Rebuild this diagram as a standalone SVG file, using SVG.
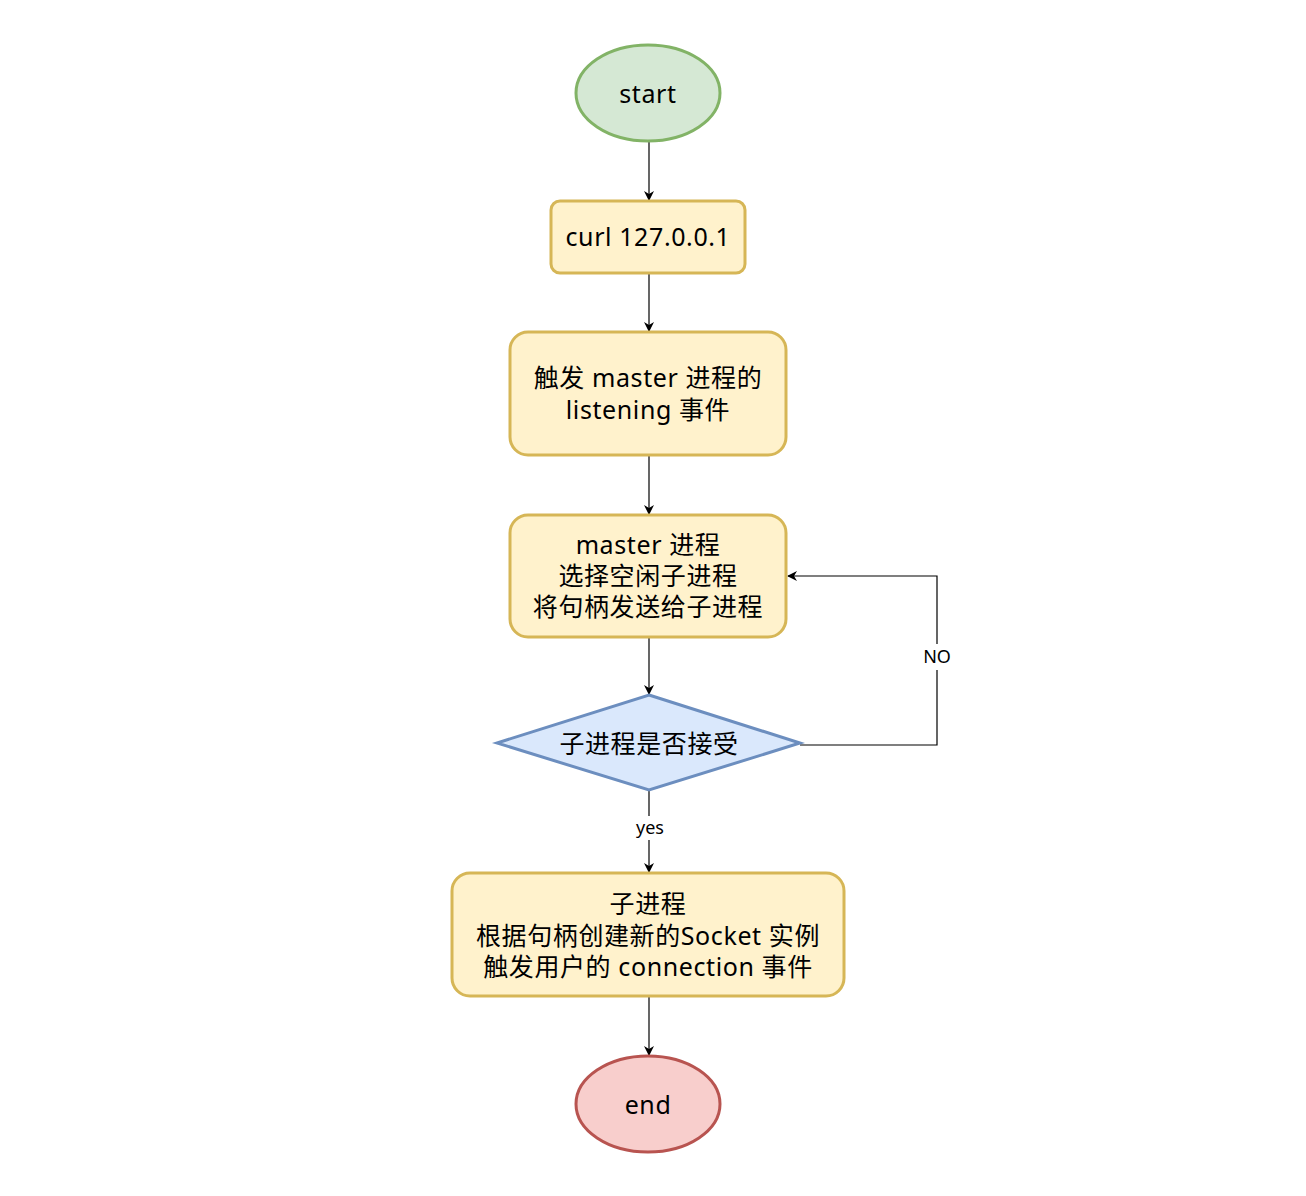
<svg xmlns="http://www.w3.org/2000/svg" width="1306" height="1196" viewBox="0 0 1306 1196">
<style>
  .t { font-family: "Noto Sans", "Noto Sans CJK SC", sans-serif; font-size: 25px; letter-spacing: 0.6px; fill: #000; text-anchor: middle; }
  .lbl { font-family: "Noto Sans", "Noto Sans CJK SC", sans-serif; font-size: 18px; fill: #000; text-anchor: middle; }
  .edge { fill: none; stroke: #000; stroke-width: 1.2; }
  .y { fill: #fff2cc; stroke: #d6b656; stroke-width: 3; }
</style>
<defs>
  <marker id="arr" viewBox="0 0 10 10" refX="9" refY="5" markerWidth="10" markerHeight="10" markerUnits="userSpaceOnUse" orient="auto">
    <path d="M0,0 L10,5 L0,10 L3,5 Z" fill="#000"/>
  </marker>
</defs>
<rect width="1306" height="1196" fill="#fff"/>
<g id="connectors">
  <line class="edge" x1="649" y1="141" x2="649" y2="200" marker-end="url(#arr)"/>
  <line class="edge" x1="649" y1="274" x2="649" y2="331" marker-end="url(#arr)"/>
  <line class="edge" x1="649" y1="456" x2="649" y2="514" marker-end="url(#arr)"/>
  <line class="edge" x1="649" y1="638" x2="649" y2="694" marker-end="url(#arr)"/>
  <line class="edge" x1="649" y1="791" x2="649" y2="872" marker-end="url(#arr)"/>
  <line class="edge" x1="649" y1="997" x2="649" y2="1055" marker-end="url(#arr)"/>
  <polyline class="edge" points="800,745 937,745 937,576 788,576" marker-end="url(#arr)"/>
  <rect x="633" y="816" width="34" height="24" fill="#fff"/>
  <text class="lbl" x="650" y="834">yes</text>
  <rect x="917" y="644" width="40" height="26" fill="#fff"/>
  <text class="lbl" x="937" y="663">NO</text>
</g>
<g id="start">
  <ellipse cx="648" cy="93" rx="72" ry="48" fill="#d5e8d4" stroke="#82b366" stroke-width="3"/>
  <text class="t" x="648" y="103">start</text>
</g>
<g id="curl">
  <rect class="y" x="551" y="201" width="194" height="72" rx="9"/>
  <text class="t" x="648" y="246">curl 127.0.0.1</text>
</g>
<g id="trigger">
  <rect class="y" x="510" y="332" width="276" height="123" rx="18"/>
  <text class="t" x="648" y="387">触发 master 进程的</text>
  <text class="t" x="648" y="419">listening 事件</text>
</g>
<g id="master">
  <rect class="y" x="510" y="515" width="276" height="122" rx="18"/>
  <text class="t" x="648" y="554">master 进程</text>
  <text class="t" x="648" y="585">选择空闲子进程</text>
  <text class="t" x="648" y="616">将句柄发送给子进程</text>
</g>
<g id="decision">
  <polygon points="649,695 800,743 649,790 497,743" fill="#dae8fc" stroke="#6c8ebf" stroke-width="3"/>
  <text class="t" x="649" y="753">子进程是否接受</text>
</g>
<g id="child">
  <rect class="y" x="452" y="873" width="392" height="123" rx="18"/>
  <text class="t" x="648" y="913">子进程</text>
  <text class="t" x="648" y="945">根据句柄创建新的Socket 实例</text>
  <text class="t" x="648" y="976">触发用户的 connection 事件</text>
</g>
<g id="end">
  <ellipse cx="648" cy="1104" rx="72" ry="48" fill="#f8cecc" stroke="#b85450" stroke-width="3"/>
  <text class="t" x="648" y="1114">end</text>
</g>
</svg>
